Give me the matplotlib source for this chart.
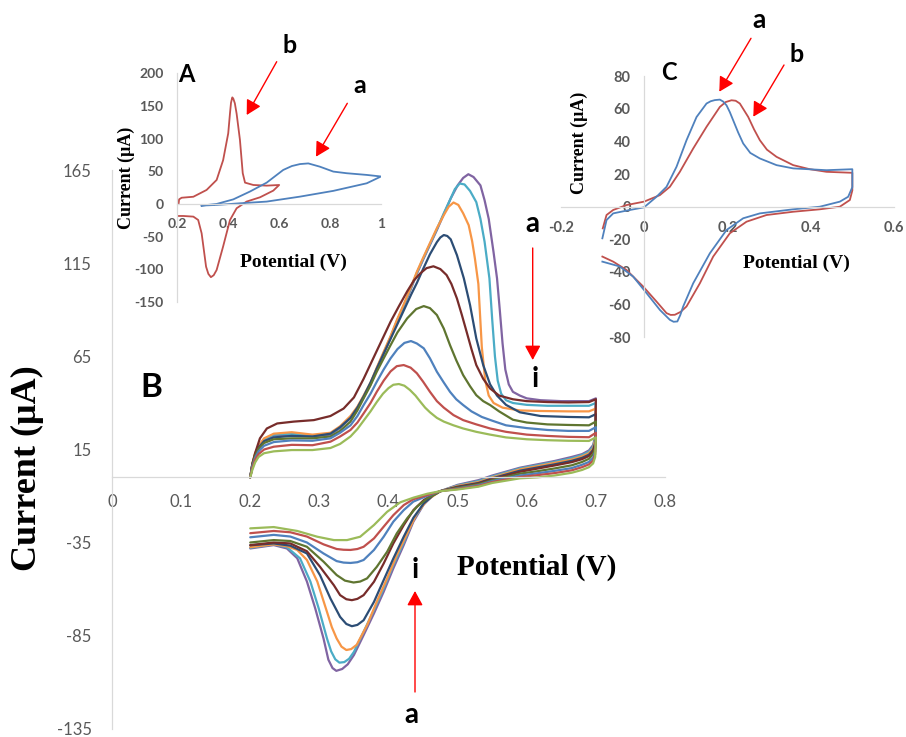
import numpy as np
import matplotlib
matplotlib.use("Agg")
import matplotlib.pyplot as plt
from matplotlib.patches import FancyArrowPatch

W, H = 906, 737

# ---------------- Panel B data (9 CVs, a = outermost ... i = innermost) ----------------
series_names = ["a", "b", "c", "d", "e", "f", "g", "h", "i"]
series_colors = ["#8064A2", "#4BACC6", "#F79646", "#2C4D75", "#772C2A",
                 "#5F7530", "#4F81BD", "#C0504D", "#9BBB59"]

rev_right_x = [0.700, 0.699, 0.696, 0.690, 0.680, 0.665, 0.640, 0.615, 0.590, 0.550, 0.530, 0.500, 0.475]

purple_fx = [0.200, 0.203, 0.207, 0.212, 0.220, 0.234, 0.260, 0.290, 0.316, 0.330, 0.345, 0.355, 0.364, 0.374, 0.383, 0.393, 0.403, 0.412, 0.422, 0.432, 0.441, 0.450, 0.460, 0.470, 0.480, 0.490, 0.500, 0.508, 0.5155, 0.523, 0.533, 0.539, 0.545, 0.552, 0.557, 0.561, 0.565, 0.569, 0.574, 0.580, 0.590, 0.600, 0.620, 0.650, 0.690, 0.700]
purple_fy = [0, 7, 12, 16, 20, 22.5, 23, 22, 23, 26.5, 32, 37, 43, 50, 58, 66.5, 75, 83.5, 92, 101, 109.5, 117, 125, 133, 141.5, 150, 157, 161, 163, 161.5, 157, 149, 139, 121, 107, 90, 72, 58, 50, 46, 44, 42.5, 41.5, 41, 41, 42.5]
purple_rx = rev_right_x + [0.465, 0.451, 0.436, 0.422, 0.407, 0.393, 0.379, 0.364, 0.350, 0.341, 0.333, 0.3245, 0.319, 0.313, 0.306, 0.294, 0.282, 0.268, 0.253, 0.234, 0.200]
purple_ry = [42.5, 22, 17.4, 14.5, 12.5, 11, 8.8, 7, 5.2, 1, -1.5, -4, -7.4, -9.5, -14.5, -23.8, -36.4, -48.9, -61.5, -73.1, -84.8, -95.5, -100.5, -103, -104, -102.5, -98, -86.6, -70.4, -56, -43.5, -38.2, -36.4, -38.2]

cyan_fx = [0.200, 0.203, 0.207, 0.212, 0.220, 0.234, 0.260, 0.290, 0.316, 0.330, 0.345, 0.355, 0.364, 0.374, 0.383, 0.393, 0.403, 0.412, 0.422, 0.432, 0.441, 0.450, 0.460, 0.470, 0.480, 0.490, 0.496, 0.503, 0.510, 0.518, 0.527, 0.533, 0.539, 0.546, 0.550, 0.554, 0.558, 0.563, 0.570, 0.580, 0.600, 0.630, 0.660, 0.690, 0.700]
cyan_fy = [0, 7.2, 12.5, 16.5, 20.5, 23, 23.5, 22.5, 23.5, 27, 32.5, 37.5, 43.5, 50.5, 58.5, 67, 75.5, 84, 92.5, 101.5, 110, 117.5, 125.5, 133.5, 142, 150, 155, 158, 157.5, 154, 148, 139, 126.7, 107, 85, 65, 52, 45, 41.5, 40, 39, 38.5, 38.5, 38.5, 40]
cyan_rx = rev_right_x + [0.465, 0.451, 0.436, 0.422, 0.407, 0.393, 0.379, 0.364, 0.350, 0.343, 0.336, 0.329, 0.323, 0.317, 0.311, 0.299, 0.287, 0.272, 0.253, 0.234, 0.200]
cyan_ry = [40, 21, 16.5, 13.8, 12, 10.3, 8.3, 6.5, 4.8, 0.5, -2, -4.3, -7.4, -9.1, -14, -22.9, -35, -47.1, -59.7, -71.3, -83, -93.8, -97.5, -99.3, -99.6, -97.8, -93.5, -86.6, -70.4, -56, -43.5, -37.5, -36, -37.8]

orange_fx = [0.200, 0.203, 0.207, 0.212, 0.220, 0.234, 0.260, 0.290, 0.316, 0.330, 0.345, 0.355, 0.364, 0.374, 0.383, 0.393, 0.403, 0.412, 0.422, 0.432, 0.441, 0.450, 0.460, 0.470, 0.480, 0.487, 0.494, 0.501, 0.508, 0.516, 0.521, 0.525, 0.530, 0.535, 0.540, 0.545, 0.552, 0.565, 0.590, 0.620, 0.660, 0.690, 0.700]
orange_fy = [0, 7.5, 13, 17, 21, 23.5, 24.3, 23, 24, 27.5, 33, 38, 44, 51, 59, 67.5, 76, 84.5, 93, 102, 110.5, 118, 126, 134, 141, 145.5, 147.8, 146.5, 142, 135.6, 127, 117.7, 104, 70, 52, 44, 40, 37.5, 36, 35.7, 35.5, 35.5, 37]
orange_rx = rev_right_x + [0.456, 0.441, 0.427, 0.412, 0.398, 0.383, 0.369, 0.354, 0.346, 0.339, 0.332, 0.325, 0.318, 0.311, 0.297, 0.282, 0.268, 0.253, 0.234, 0.200]
orange_ry = [37, 20, 15.6, 13, 11.3, 9.6, 7.8, 6, 4.3, 0, -2.5, -4.6, -7.4, -12.2, -19.4, -30.1, -41.8, -54.3, -66.9, -79.4, -90, -92.3, -92.8, -91, -86.6, -80.5, -72.3, -56, -44.4, -39, -37, -36, -37.5]

navy_fx = [0.200, 0.203, 0.207, 0.212, 0.220, 0.234, 0.260, 0.290, 0.316, 0.330, 0.345, 0.355, 0.364, 0.374, 0.383, 0.393, 0.403, 0.413, 0.423, 0.433, 0.441, 0.450, 0.460, 0.470, 0.475, 0.480, 0.485, 0.490, 0.499, 0.509, 0.518, 0.527, 0.537, 0.547, 0.557, 0.570, 0.590, 0.620, 0.660, 0.690, 0.700]
navy_fy = [0, 7, 12, 16, 19.5, 21.5, 22.3, 22, 23.5, 27, 32, 37.5, 43.5, 51, 58.5, 66.5, 74.5, 82.5, 90.5, 98.5, 104.5, 112, 120, 126.5, 129, 130.3, 129.8, 128, 119.5, 107, 92.6, 74.7, 60.4, 50, 44, 39, 35, 33, 32.5, 32.3, 34]
navy_rx = rev_right_x + [0.465, 0.451, 0.436, 0.422, 0.407, 0.393, 0.379, 0.364, 0.355, 0.347, 0.339, 0.330, 0.316, 0.301, 0.282, 0.258, 0.234, 0.200]
navy_ry = [34, 18.5, 14.8, 12.2, 10.5, 8.9, 7, 5.3, 3.6, -0.5, -3, -5, -7.4, -9.5, -14, -21.7, -31.9, -43.6, -55.2, -66.9, -76.8, -79.3, -80, -78.8, -75, -65.1, -52.6, -40.9, -36.7, -35.5, -36.5]

maroon_fx = [0.200, 0.203, 0.207, 0.214, 0.224, 0.239, 0.263, 0.292, 0.316, 0.335, 0.350, 0.364, 0.383, 0.403, 0.415, 0.427, 0.437, 0.446, 0.455, 0.465, 0.475, 0.484, 0.491, 0.499, 0.506, 0.513, 0.520, 0.527, 0.537, 0.547, 0.560, 0.580, 0.600, 0.630, 0.660, 0.690, 0.700]
maroon_fy = [0, 7, 13, 21, 26.3, 29, 30, 30.8, 33, 37, 43, 53, 68, 83.7, 92, 100, 106, 109.7, 112.5, 113.5, 112, 108.8, 104, 96.2, 87.5, 78.3, 69, 60.4, 53, 47.8, 44, 42, 41, 40.5, 40.3, 40.5, 42]
maroon_rx = rev_right_x + [0.465, 0.451, 0.436, 0.422, 0.407, 0.393, 0.379, 0.364, 0.355, 0.347, 0.339, 0.330, 0.321, 0.301, 0.282, 0.258, 0.234, 0.200]
maroon_ry = [42, 17.5, 14, 11.5, 9.8, 8.2, 6.4, 4.7, 3, -1, -3.3, -5.3, -7.4, -9, -12.2, -17.6, -25.7, -35.5, -46.3, -56.1, -63.3, -65.3, -66, -65.5, -63.3, -58, -48.1, -39.7, -35.5, -35, -36.4]

dgreen_fx = [0.200, 0.203, 0.207, 0.212, 0.220, 0.234, 0.260, 0.290, 0.316, 0.330, 0.345, 0.355, 0.364, 0.374, 0.383, 0.393, 0.403, 0.413, 0.427, 0.440, 0.451, 0.460, 0.470, 0.480, 0.489, 0.498, 0.508, 0.518, 0.527, 0.537, 0.547, 0.560, 0.580, 0.600, 0.630, 0.660, 0.690, 0.700]
dgreen_fy = [0, 6.5, 11.5, 15.5, 18.5, 20.5, 21, 21, 22, 25, 30, 36, 42.5, 49.5, 56.8, 64, 71.1, 78, 85.5, 90.5, 92.1, 91, 87.3, 80, 71.1, 63, 55, 49, 44.2, 41, 38.9, 35.5, 31, 29.5, 28.5, 28.2, 28, 30]
dgreen_rx = rev_right_x + [0.470, 0.456, 0.441, 0.427, 0.412, 0.398, 0.383, 0.369, 0.359, 0.3495, 0.337, 0.325, 0.306, 0.282, 0.258, 0.234, 0.200]
dgreen_ry = [30, 16, 12.5, 10, 8.3, 6.5, 4.8, 3.3, 2, -1.5, -3.7, -5.6, -7.4, -8.6, -11.3, -15.8, -22, -30.1, -40, -48.1, -54.3, -56, -56.5, -55.5, -52.5, -45.3, -37.3, -34.2, -33.7, -35]

blue_fx = [0.200, 0.203, 0.207, 0.212, 0.220, 0.234, 0.260, 0.290, 0.316, 0.330, 0.345, 0.355, 0.364, 0.374, 0.383, 0.393, 0.403, 0.413, 0.423, 0.4325, 0.441, 0.451, 0.460, 0.470, 0.480, 0.489, 0.498, 0.508, 0.520, 0.535, 0.550, 0.570, 0.600, 0.630, 0.660, 0.690, 0.700]
blue_fy = [0, 6, 10.5, 14, 17, 19, 19.9, 19.7, 21, 24, 28, 33, 38.9, 45, 51.4, 58, 64, 69, 72.3, 73.3, 72, 69.4, 64, 56.8, 51, 46, 42, 38.9, 35.5, 32.5, 30.5, 28, 26.5, 25.5, 25, 25, 27]
blue_rx = rev_right_x + [0.456, 0.436, 0.422, 0.407, 0.393, 0.379, 0.364, 0.355, 0.345, 0.335, 0.325, 0.306, 0.282, 0.258, 0.234, 0.200]
blue_ry = [27, 14, 10.5, 8.3, 6.8, 5, 3.5, 2.2, 1, -2, -4.2, -6, -7.4, -9.9, -13, -17.6, -23.8, -31.9, -39, -44.4, -45.6, -46, -45.8, -45, -40.9, -35, -31.8, -30.9, -32.2]

red_fx = [0.200, 0.203, 0.207, 0.212, 0.220, 0.234, 0.260, 0.290, 0.316, 0.330, 0.345, 0.355, 0.364, 0.374, 0.383, 0.393, 0.403, 0.412, 0.422, 0.432, 0.441, 0.450, 0.460, 0.470, 0.480, 0.494, 0.508, 0.527, 0.547, 0.570, 0.600, 0.630, 0.660, 0.690, 0.700]
red_fy = [0, 5, 9.5, 12.5, 15, 16.5, 17.5, 17.3, 19.2, 22, 25.5, 29.5, 34.4, 40, 46, 52, 57, 59.8, 60.4, 59, 56, 51.5, 46, 41, 37.5, 33.5, 30.8, 28.5, 26.3, 24.5, 23, 22.3, 21.8, 21.6, 24]
red_rx = rev_right_x + [0.456, 0.436, 0.422, 0.407, 0.393, 0.379, 0.364, 0.355, 0.345, 0.335, 0.325, 0.306, 0.282, 0.258, 0.234, 0.200]
red_ry = [24, 12.5, 9, 7, 5.5, 3.8, 2.3, 1.2, 0.2, -2.5, -4.6, -6.2, -7.4, -9.5, -11.7, -14.9, -20.3, -26.5, -32.8, -37.3, -38.5, -39, -38.9, -38.5, -36, -31.8, -29.5, -28.8, -30]

lgreen_fx = [0.200, 0.203, 0.207, 0.212, 0.220, 0.234, 0.260, 0.290, 0.316, 0.330, 0.345, 0.355, 0.364, 0.374, 0.383, 0.392, 0.400, 0.407, 0.415, 0.423, 0.431, 0.439, 0.446, 0.453, 0.460, 0.470, 0.480, 0.494, 0.508, 0.527, 0.547, 0.570, 0.600, 0.630, 0.660, 0.690, 0.700]
lgreen_fy = [0, 4, 8, 11, 13, 14, 14.7, 14.7, 15.8, 18, 22, 26, 30.5, 35.5, 40.5, 45, 48, 49.8, 50.2, 49.3, 47, 44, 40.7, 37.5, 35, 32, 30, 28, 26.3, 24.5, 23, 21.5, 20.5, 20, 19.7, 19.6, 21.5]
lgreen_rx = rev_right_x + [0.456, 0.436, 0.417, 0.398, 0.379, 0.359, 0.340, 0.321, 0.297, 0.268, 0.234, 0.200]
lgreen_ry = [21.5, 11, 7.5, 5.5, 4, 2.5, 1, 0, -0.5, -3, -5, -6.5, -7.4, -8.8, -10.9, -13.4, -18.5, -25.6, -31.9, -33.7, -33.7, -31.9, -28.8, -26.7, -27.4]

B_xticks = [0, 0.1, 0.2, 0.3, 0.4, 0.5, 0.6, 0.7, 0.8]
B_xticklabels = ["0", "0.1", "0.2", "0.3", "0.4", "0.5", "0.6", "0.7", "0.8"]
B_yticks = [-135, -85, -35, 15, 65, 115, 165]

# ---------------- Panel A data ----------------
A_b_x = [0.205, 0.207, 0.217, 0.263, 0.315, 0.3545, 0.38, 0.40, 0.407, 0.411, 0.416, 0.420, 0.426, 0.433, 0.446, 0.457, 0.466, 0.4985, 0.551, 0.60,
         0.577, 0.525, 0.472, 0.433, 0.407, 0.38, 0.3545, 0.343, 0.332, 0.322, 0.313, 0.2956, 0.282, 0.263, 0.2236, 0.20]
A_b_y = [0, 7, 9.5, 11, 21.4, 36.7, 67, 108, 139, 155, 163, 161, 154, 138, 98, 47, 32.6, 29, 28, 29,
         20.4, 10.2, 3.6, -6.6, -24.5, -65, -101, -109, -112, -107, -96, -45, -24.5, -19.4, -18.4, -18.4]
A_a_x = [0.2956, 0.3545, 0.42, 0.4855, 0.551, 0.616, 0.65, 0.682, 0.7145, 0.76, 0.8127, 0.865, 0.944, 1.0,
         0.944, 0.8127, 0.682, 0.551, 0.446, 0.3545, 0.2956]
A_a_y = [-2.5, 0, 7, 19, 32.6, 52, 58, 61, 62, 57, 49.5, 47, 44.4, 42,
         31.6, 20, 11.2, 3.6, 1, -1.5, -2.5]
A_xticks = [0.2, 0.4, 0.6, 0.8, 1.0]
A_xticklabels = ["0.2", "0.4", "0.6", "0.8", "1"]
A_yticks = [-150, -100, -50, 0, 50, 100, 150, 200]

# ---------------- Panel C data ----------------
C_a_x = [-0.1, -0.09, -0.074, -0.042, 0.0, 0.03, 0.054, 0.078, 0.102, 0.126, 0.15, 0.16, 0.17, 0.182, 0.19, 0.198, 0.206, 0.214, 0.226, 0.238, 0.255, 0.278, 0.318, 0.358, 0.438,
         0.5, 0.5, 0.49, 0.47, 0.422, 0.358, 0.278, 0.238, 0.198, 0.158, 0.118, 0.094, 0.087, 0.08, 0.071, 0.062, 0.038, 0.006, -0.026, -0.058, -0.1]
C_a_y = [-19.4, -8.2, -4.1, -2.4, -0.4, 6.1, 12.2, 24.5, 40.8, 55, 63.3, 64.7, 65.4, 65.7, 64.5, 62.2, 58, 53, 45.5, 38.8, 33, 29.6, 25.5, 23.5, 22.4,
         23, 12, 6.1, 3.1, 0, -1.6, -4.1, -7.1, -14.3, -28.6, -47, -61.2, -66.5, -70.4, -70.6, -69.4, -63.3, -53, -42.9, -36.7, -33.7]
C_b_x = [-0.099, -0.09, -0.074, -0.042, 0.0, 0.038, 0.062, 0.086, 0.118, 0.15, 0.182, 0.196, 0.21, 0.22, 0.23, 0.25, 0.264, 0.278, 0.295, 0.318, 0.358, 0.398, 0.438, 0.5,
         0.5, 0.494, 0.47, 0.422, 0.358, 0.294, 0.246, 0.206, 0.166, 0.134, 0.102, 0.088, 0.074, 0.064, 0.054, 0.03, -0.002, -0.042, -0.074, -0.1]
C_b_y = [-13.3, -5.1, -2, 1, 3.1, 7.1, 12.2, 21.4, 35.7, 49, 61.2, 64.2, 65.3, 65, 63.3, 55.1, 47.5, 40.8, 35, 30.6, 25.5, 23, 21.4, 20.8,
         10, 4.1, 0, -1.6, -3.1, -5.1, -9.2, -16.3, -30.6, -47, -61.2, -64.5, -66.3, -66.4, -65.3, -58.2, -49, -38.8, -33.7, -30.6]
C_xticks = [-0.2, 0.0, 0.2, 0.4, 0.6]
C_xticklabels = ["-0.2", "0", "0.2", "0.4", "0.6"]
C_yticks = [-80, -60, -40, -20, 0, 20, 40, 60, 80]

# ---------------- helpers ----------------
def rect(l, t, r, b):
    return [l / W, 1 - b / H, (r - l) / W, (b - t) / H]

def fpos(x, y):
    return (x / W, 1 - y / H)

AXIS_C = "#D9D9D9"
TICK_C = "#595959"
SANS = "Lato"
SERIF = "Liberation Serif"

fig = plt.figure(figsize=(W / 100, H / 100), dpi=100)
fig.patch.set_facecolor("white")

def style_axes(ax, xfs, yfs, xpad, ypad, weight, left_at_zero=False):
    for s in ["top", "right"]:
        ax.spines[s].set_visible(False)
    ax.spines["bottom"].set_position(("data", 0))
    if left_at_zero:
        ax.spines["left"].set_position(("data", 0))
    for s in ["left", "bottom"]:
        ax.spines[s].set_color(AXIS_C)
        ax.spines[s].set_linewidth(0.9)
    ax.tick_params(axis="x", length=0, pad=xpad, labelsize=xfs, labelcolor=TICK_C)
    ax.tick_params(axis="y", length=0, pad=ypad, labelsize=yfs, labelcolor=TICK_C)
    for lab in ax.get_xticklabels() + ax.get_yticklabels():
        lab.set_fontfamily(SANS)
        lab.set_fontweight(weight)
    ax.set_facecolor("none")

# ---------------- main panel B ----------------
axB = fig.add_axes(rect(112, 170.5, 665, 728.5))
axB.set_xlim(0, 0.8)
axB.set_ylim(-135, 165)
axB.set_xticks(B_xticks)
axB.set_xticklabels(B_xticklabels)
axB.set_yticks(B_yticks)
axB.set_yticklabels([str(v) for v in B_yticks])
style_axes(axB, 12, 12, 12, 14.5, "normal")

b_series = [
    (purple_fx, purple_fy, purple_rx, purple_ry),
    (cyan_fx, cyan_fy, cyan_rx, cyan_ry),
    (orange_fx, orange_fy, orange_rx, orange_ry),
    (navy_fx, navy_fy, navy_rx, navy_ry),
    (maroon_fx, maroon_fy, maroon_rx, maroon_ry),
    (dgreen_fx, dgreen_fy, dgreen_rx, dgreen_ry),
    (blue_fx, blue_fy, blue_rx, blue_ry),
    (red_fx, red_fy, red_rx, red_ry),
    (lgreen_fx, lgreen_fy, lgreen_rx, lgreen_ry),
]
for (fx, fy, rx, ry), col in zip(b_series, series_colors):
    axB.plot(fx + rx, fy + ry, color=col, lw=1.6, solid_joinstyle="round", solid_capstyle="round")

# ---------------- inset A ----------------
axA = fig.add_axes(rect(177.3, 73.2, 381, 302))
axA.set_xlim(0.2, 1.0)
axA.set_ylim(-150, 200)
axA.set_xticks(A_xticks)
axA.set_xticklabels(A_xticklabels)
axA.set_yticks(A_yticks)
axA.set_yticklabels([str(v) for v in A_yticks])
style_axes(axA, 10, 10, 10, 10, "bold")
axA.plot(A_b_x, A_b_y, color="#C0504D", lw=1.3, solid_joinstyle="round")
axA.plot(A_a_x, A_a_y, color="#4F81BD", lw=1.3, solid_joinstyle="round")

# ---------------- inset C ----------------
axC = fig.add_axes(rect(560.7, 76.3, 894, 337.1))
axC.set_xlim(-0.2, 0.6)
axC.set_ylim(-80, 80)
axC.set_xticks(C_xticks)
axC.set_xticklabels(C_xticklabels)
axC.set_yticks(C_yticks)
axC.set_yticklabels([str(v) for v in C_yticks])
style_axes(axC, 10.5, 10.5, 10.5, 9.5, "bold", left_at_zero=True)
axC.plot(C_b_x, C_b_y, color="#C0504D", lw=1.3, solid_joinstyle="round")
axC.plot(C_a_x, C_a_y, color="#4F81BD", lw=1.3, solid_joinstyle="round")

# ---------------- titles ----------------
def ftext(x, y, s, size, family, rot=0, va="center", weight="bold"):
    fig.text(*fpos(x, y), s, fontsize=size, family=family, fontweight=weight,
             rotation=rot, ha="center", va=va, color="black")

ftext(27, 468, "Current (μA)", 26, SERIF, rot=90)
ftext(537, 567, "Potential (V)", 21, SERIF)
ftext(126.7, 177.5, "Current (μA)", 13, SERIF, rot=90)
ftext(293, 262, "Potential (V)", 14, SERIF)
ftext(579, 142.5, "Current (μA)", 13, SERIF, rot=90)
ftext(796.7, 263, "Potential (V)", 14, SERIF)

# panel letters and curve labels
ftext(151.7, 397, "B", 24, SANS, va="baseline")
ftext(186.3, 81.7, "A", 17, SANS, va="baseline")
ftext(669, 80, "C", 17, SANS, va="baseline")
ftext(532, 232, "a", 20, SANS, va="baseline")
ftext(535.5, 387, "i", 20, SANS, va="baseline")
ftext(415, 578, "i", 20, SANS, va="baseline")
ftext(411, 723, "a", 20, SANS, va="baseline")
ftext(289.3, 53.3, "b", 18, SANS, va="baseline")
ftext(359.7, 92.7, "a", 18, SANS, va="baseline")
ftext(758.7, 28.3, "a", 19, SANS, va="baseline")
ftext(796.7, 61.7, "b", 18, SANS, va="baseline")

def red_arrow(x0, y0, x1, y1):
    arr = FancyArrowPatch(fpos(x0, y0), fpos(x1, y1), transform=fig.transFigure,
                          arrowstyle="-|>,head_length=0.55,head_width=0.3",
                          mutation_scale=16, color="red", lw=1.0,
                          shrinkA=0, shrinkB=0)
    fig.add_artist(arr)

red_arrow(532.7, 248, 532.7, 360)
red_arrow(415, 692, 415, 591)
red_arrow(276.7, 61.7, 246.7, 115)
red_arrow(347.3, 103.3, 316, 156.7)
red_arrow(751, 38.3, 719.3, 91.7)
red_arrow(784, 65, 753.3, 116.7)

fig.savefig("out.png", dpi=100, facecolor="white")
